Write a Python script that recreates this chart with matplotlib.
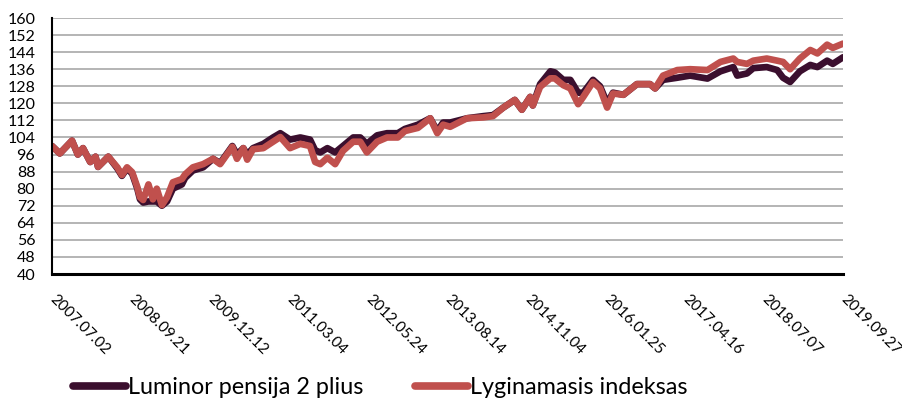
import matplotlib
matplotlib.use("Agg")
import matplotlib.pyplot as plt
import pandas as pd

# sample dates
dates = [
    "2007-07-02", "2007-08-15", "2007-10-23", "2007-11-25", "2007-12-24",
    "2008-02-03", "2008-03-04", "2008-03-18", "2008-05-15", "2008-07-05",
    "2008-07-31", "2008-08-29", "2008-09-27", "2008-10-26", "2008-11-10",
    "2008-11-28", "2008-12-28", "2009-01-22", "2009-02-13", "2009-03-14",
    "2009-04-12", "2009-05-15", "2009-07-05", "2009-07-23", "2009-09-05",
    "2009-11-02", "2009-12-28", "2010-02-06", "2010-04-16", "2010-05-12",
    "2010-06-17", "2010-07-09", "2010-08-11", "2010-10-08", "2010-12-02",
    "2011-01-12", "2011-03-08", "2011-05-05", "2011-06-29", "2011-07-28",
    "2011-08-26", "2011-10-05", "2011-11-18", "2012-01-01", "2012-02-28",
    "2012-04-08", "2012-05-15", "2012-07-12", "2012-09-06", "2012-11-06",
    "2012-12-16", "2013-02-28", "2013-05-08", "2013-06-17", "2013-07-20",
    "2013-08-29", "2013-12-02", "2014-03-04", "2014-04-28", "2014-06-25",
    "2014-08-29", "2014-10-08", "2014-11-24", "2014-12-09", "2015-01-19",
    "2015-03-18", "2015-04-12", "2015-05-30", "2015-07-09", "2015-08-22",
    "2015-09-20", "2015-11-14", "2015-12-24", "2016-02-02", "2016-03-06",
    "2016-05-04", "2016-07-19", "2016-10-01", "2016-10-30", "2016-12-14",
    "2017-03-04", "2017-05-16", "2017-08-22", "2017-11-03", "2018-01-15",
    "2018-02-06", "2018-04-02", "2018-05-08", "2018-07-23", "2018-09-20",
    "2018-10-23", "2018-12-02", "2019-01-26", "2019-03-26", "2019-05-05",
    "2019-06-29", "2019-07-31", "2019-09-27",
]

fund = [
    100, 96.5, 102.5, 96, 99, 92.5, 95, 90.2, 95, 89.5,
    86, 89.5, 87, 80, 75, 73.5, 74, 74, 74, 72,
    74, 80, 82, 85, 88.5, 90, 94, 92, 100, 96,
    99, 96, 99, 101, 104, 106, 103, 104, 103, 98,
    97, 99, 97, 100, 104, 104, 101, 105, 106, 106,
    108, 110, 113, 107, 111, 111, 113, 114, 114.5, 118,
    121.6, 117, 123, 119, 129, 135, 134.5, 131, 131, 125,
    125, 131, 128, 120, 125, 124, 129, 129, 127, 131,
    132, 133, 131.6, 135, 137, 133, 134, 136.5, 137, 135.6,
    132, 130, 135, 138, 137, 140, 138.5, 141.6,
]

index = [
    100, 96.5, 102.5, 96, 99, 92.5, 95, 90.2, 95, 90,
    86.4, 90, 87.7, 80.8, 76, 74.7, 82, 75, 80, 72.3,
    76, 83, 84.5, 86.7, 90, 91.5, 94, 91.5, 99.6, 94,
    99, 93.6, 98.5, 99, 102, 104.2, 99, 101, 100, 92.5,
    91.5, 94.5, 91.5, 97.7, 102, 102, 97, 102, 104, 104,
    107, 108.5, 113, 106, 110, 109, 113, 113.4, 114, 118,
    121.6, 117, 123, 119, 127.7, 131.7, 131.7, 128.5, 127, 119.6,
    123, 130, 127, 118, 124.6, 124, 129, 129, 127, 133,
    135.6, 136, 135.6, 139.4, 141, 139.4, 138.5, 140, 141, 140,
    139.4, 136, 141, 145, 143.4, 147.5, 146, 148,
]

tick_dates = [
    "2007-07-02", "2008-09-21", "2009-12-12", "2011-03-04", "2012-05-24",
    "2013-08-14", "2014-11-04", "2016-01-25", "2017-04-16", "2018-07-07",
    "2019-09-27",
]
y_ticks = list(range(40, 161, 8))

plt.rcParams['font.family'] = ['Lato', 'DejaVu Sans']

x = pd.to_datetime(dates)
xt = pd.to_datetime(tick_dates)

fig = plt.figure(figsize=(9.03, 4.0), dpi=100)
ax = fig.add_axes([0.0576, 0.315, 0.876, 0.64])

ax.plot(x, fund, color='#3b0f2e', lw=4.8, label='Luminor pensija 2 plius',
        solid_joinstyle='round', solid_capstyle='round')
ax.plot(x, index, color='#c0504d', lw=4.8, label='Lyginamasis indeksas',
        solid_joinstyle='round', solid_capstyle='round')

ax.set_xlim(xt[0], xt[-1])
ax.set_ylim(40, 160)
ax.set_yticks(y_ticks)
ax.set_xticks(xt)
ax.set_xticklabels([d.strftime('%Y.%m.%d') for d in xt], rotation=-45,
                   rotation_mode='anchor', ha='left', va='center', fontsize=11)
ax.tick_params(axis='x', length=0, pad=17)
ax.tick_params(axis='y', length=0, pad=12, labelsize=11.5)

ax.yaxis.grid(True, color='#b4b4b4', lw=1.4)
ax.set_axisbelow(True)
for s in ['top', 'right']:
    ax.spines[s].set_visible(False)
ax.spines['left'].set_linewidth(1.5)
ax.spines['bottom'].set_linewidth(2.2)

leg = fig.legend(loc='center', bbox_to_anchor=(0.421, 0.032), ncol=2, frameon=False,
                 fontsize=16.8, handlelength=2.3, handletextpad=0.08, columnspacing=2.2,
                 borderpad=0)
for line in leg.get_lines():
    line.set_linewidth(5.5)

plt.savefig('out.png', dpi=100)
plt.close(fig)
